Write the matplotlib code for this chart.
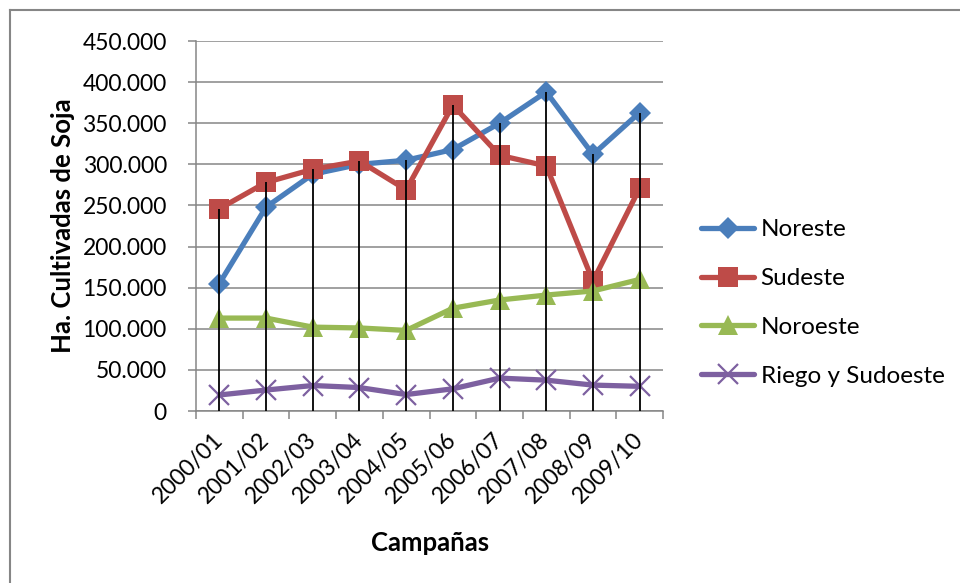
import matplotlib
matplotlib.use("Agg")
import matplotlib.pyplot as plt
from matplotlib.lines import Line2D
from matplotlib.ticker import FuncFormatter, FixedLocator

campanas = ["2000/01", "2001/02", "2002/03", "2003/04", "2004/05",
            "2005/06", "2006/07", "2007/08", "2008/09", "2009/10"]
noreste = [155000, 248000, 288000, 300000, 305000, 318000, 350000, 388000, 312000, 363000]
sudeste = [246000, 278000, 294000, 304000, 269000, 372000, 311000, 298000, 158000, 271000]
noroeste = [113000, 113000, 102000, 101000, 98000, 125000, 135000, 141000, 146000, 160000]
riego = [19500, 25500, 31000, 28500, 20000, 27000, 40000, 37500, 31500, 30000]
series_names = ["Noreste", "Sudeste", "Noroeste", "Riego y Sudoeste"]
yticks = [0, 50000, 100000, 150000, 200000, 250000, 300000, 350000, 400000, 450000]

FONT = "Lato"
plt.rcParams["font.family"] = [FONT, "DejaVu Sans"]
FS = 16.5
FS_LEG = 17.5
FS_TITLE = 18.5

W, H = 960, 583
fig = plt.figure(figsize=(W / 100, H / 100), dpi=100)
ax = fig.add_axes([196 / W, 1 - 411 / H, (663 - 196) / W, (411 - 41) / H])

x = list(range(len(campanas)))
colors = ["#4A7EBB", "#BE4B48", "#98B954", "#7D60A0"]
markers = ["D", "s", "^", "x"]
msizes = [11.5, 14, 15, 14]
data = [noreste, sudeste, noroeste, riego]
LW = 3.8

for vals, c, m, ms, name in zip(data, colors, markers, msizes, series_names):
    kw = dict(color=c, lw=LW, marker=m, markersize=ms, label=name, zorder=3,
              solid_joinstyle="round", solid_capstyle="round")
    if m == "x":
        kw.update(markeredgewidth=1.6)
    else:
        kw.update(markeredgewidth=0)
    ax.plot(x, vals, **kw)

# drop lines from the highest point of each category down to the axis
tops = [max(v) for v in zip(*data)]
ax.vlines(x, 0, tops, color="black", lw=1.3, zorder=4, clip_on=True)

ax.set_xlim(-0.5, len(campanas) - 0.5)
ax.set_ylim(0, 450000)
ax.set_yticks(yticks)
ax.yaxis.set_major_formatter(FuncFormatter(lambda v, p: f"{int(v):,}".replace(",", ".")))
ax.grid(axis="y", color="#868686", lw=1.1, zorder=0)
ax.set_axisbelow(True)

ax.set_xticks(x)
ax.set_xticklabels(campanas, rotation=45, ha="right", va="center",
                   rotation_mode="anchor", fontsize=FS)
ax.xaxis.set_minor_locator(FixedLocator([i - 0.5 for i in range(len(campanas) + 1)]))
ax.tick_params(axis="x", which="major", length=0, width=0, color="none", pad=18)
ax.tick_params(axis="x", which="minor", length=6, color="#868686", width=1.1)
ax.tick_params(axis="y", length=6, color="#868686", width=1.1, labelsize=FS, pad=15)

for s in ["top", "right"]:
    ax.spines[s].set_visible(False)
for s in ["left", "bottom"]:
    ax.spines[s].set_color("#868686")
    ax.spines[s].set_linewidth(1.1)

fig.text(63 / W, 1 - 226 / H, "Ha. Cultivadas de Soja", rotation=90, ha="center",
         va="center", fontsize=FS_TITLE, fontweight="bold")
fig.text(430 / W, 1 - 543 / H, "Campañas", ha="center", va="center",
         fontsize=FS_TITLE, fontweight="bold")

handles = [Line2D([0], [0], color=c, lw=LW, marker=m, markersize=ms,
                  markeredgewidth=(1.6 if m == "x" else 0), solid_capstyle="round")
           for c, m, ms in zip(colors, markers, msizes)]
fig.legend(handles, series_names, loc="center left",
           bbox_to_anchor=(701 / W, 1 - 303 / H), frameon=False, fontsize=FS_LEG,
           handlelength=2.2, handletextpad=0.25, labelspacing=1.15, borderaxespad=0,
           borderpad=0)

# chart area border (top and left visible)
fig.add_artist(Line2D([10 / W, 1.0], [1 - 10 / H, 1 - 10 / H], color="#868686", lw=1.5))
fig.add_artist(Line2D([10 / W, 10 / W], [0, 1 - 10 / H], color="#868686", lw=1.5))

fig.savefig("out.png", dpi=100, facecolor="white")
